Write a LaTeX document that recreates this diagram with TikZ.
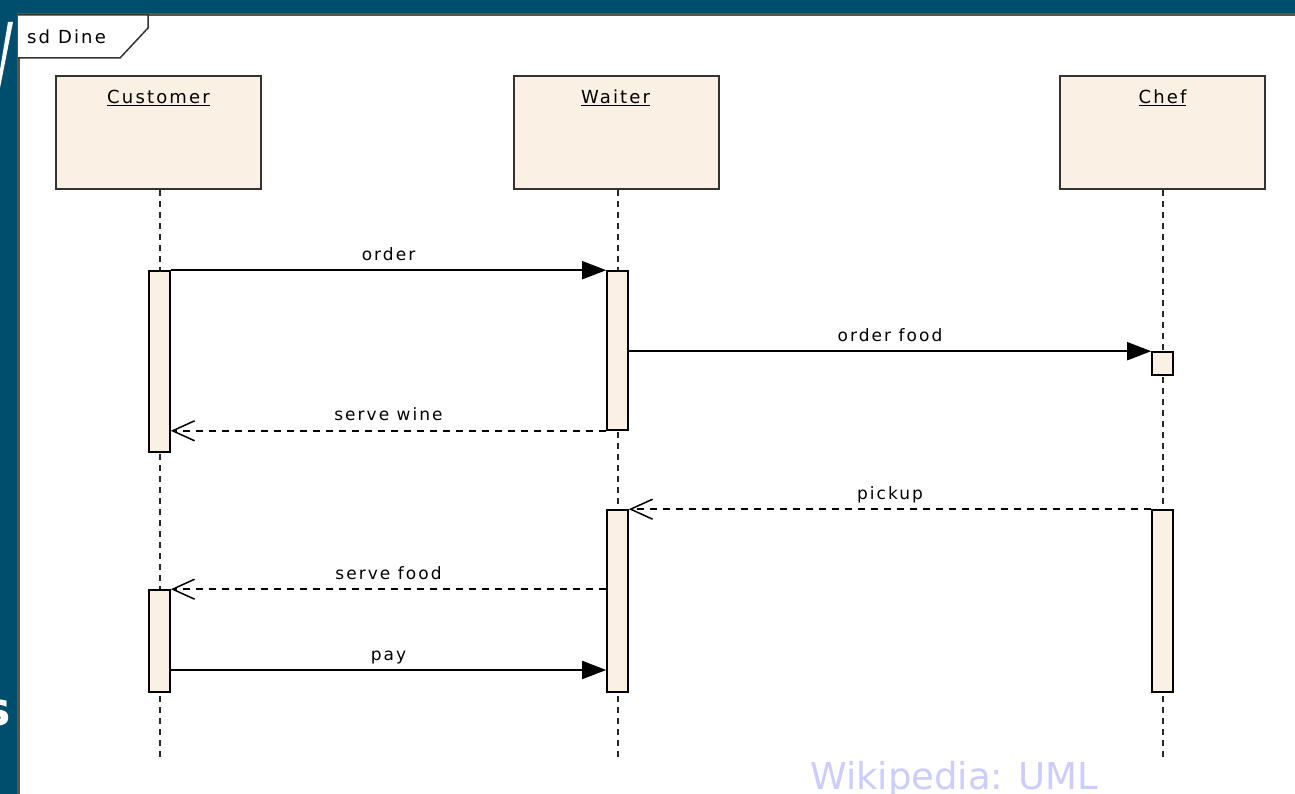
\documentclass[tikz,border=0pt]{standalone}
\usepackage{fontspec}
\setmainfont{DejaVu Sans}
\newfontfamily\lblfont[LetterSpace=12]{DejaVu Sans}
\usetikzlibrary{arrows.meta}
\definecolor{slideblue}{HTML}{004E6E}
\definecolor{boxfill}{HTML}{FAF0E3}
\definecolor{boxline}{HTML}{333333}
\definecolor{framegray}{HTML}{555555}
\definecolor{wikicol}{HTML}{CCCCFF}
\tikzset{
  head/.style={draw=boxline, line width=2pt, fill=boxfill, minimum width=205pt, minimum height=113pt, inner sep=0pt},
  headtext/.style={anchor=base, inner sep=0pt, font=\lblfont\fontsize{18}{20}\selectfont},
  lifeline/.style={draw=black!85, line width=2pt, dash pattern=on 6pt off 5pt},
  act/.style={draw=black, line width=1.6pt, fill=boxfill, minimum width=21pt, inner sep=0pt},
  syncmsg/.style={draw=black, line width=1.8pt, -{Triangle[length=24pt,width=18pt]}},
  replymsg/.style={draw=black, line width=1.8pt, dash pattern=on 7pt off 6pt, -{Straight Barb[length=22pt,width=20pt,line width=1.5pt]}},
  msglabel/.style={midway, anchor=base, yshift=10pt, inner sep=0pt, font=\lblfont\fontsize{17}{20}\selectfont}
}
\begin{document}
\begin{tikzpicture}[x=1pt,y=-1pt]
\useasboundingbox (0,0) rectangle (1295,794);
% slide background
\fill[slideblue] (0,0) rectangle (1295,794);
\fill[white] (0,88) -- (0,70) -- (8,22) -- (13,22) -- cycle;
\node[anchor=base east, inner sep=0pt, text=white, font=\bfseries\fontsize{46}{50}\selectfont] (slideS) at (11,725) {s};
% frame
\fill[white] (18,15) rectangle (1300,800);
\draw[framegray, line width=3pt] (18,800) -- (18,15) -- (1300,15);
\draw[boxline, line width=1.5pt, fill=white] (18,15) -- (148,15) -- (148,28) -- (120,58) -- (18,58);
\node[anchor=base west, inner sep=0pt, font=\lblfont\fontsize{18}{20}\selectfont] (title) at (27,44) {sd Dine};
% lifeline heads
\node[head] (cust) at (158.5,132.5) {};
\node[head] (wait) at (616,132.5) {};
\node[head] (chef) at (1162.5,132.5) {};
\node[headtext] (custt) at (158.5,104) {\underline{Customer}};
\node[headtext] (waitt) at (615.5,104) {\underline{Waiter}};
\node[headtext] (chaeft) at (1162.5,104) {\underline{Chef}};
% lifelines
\coordinate (custend) at (159.5,758);
\coordinate (waitend) at (617.5,758);
\coordinate (chefend) at (1162.5,758);
\draw[lifeline] (cust.south -| custend) -- (custend);
\draw[lifeline] (wait.south -| waitend) -- (waitend);
\draw[lifeline] (chef.south -| chefend) -- (chefend);
% activations
\node[act, minimum height=181pt] (c1) at (159.5,361.5) {};
\node[act, minimum height=159pt] (w1) at (617.5,350.5) {};
\node[act, minimum height=23pt] (h1) at (1162.5,363.5) {};
\node[act, minimum height=182pt] (w2) at (617.5,601) {};
\node[act, minimum height=182pt] (h2) at (1162.5,601) {};
\node[act, minimum height=102pt] (c2) at (159.5,641) {};
% messages
\draw[syncmsg] (c1.north east) -- node[msglabel] {order} (w1.north west);
\draw[syncmsg] (w1.east |- h1.north) -- node[msglabel] {order food} (h1.north west);
\draw[replymsg] (w1.south west) -- node[msglabel] {serve wine} (c1.east |- w1.south);
\draw[replymsg] (h2.north west) -- node[msglabel] {pickup} (w2.north east);
\draw[replymsg] (w2.west |- c2.north) -- node[msglabel] {serve food} (c2.north east);
\coordinate (payy) at (0,670);
\draw[syncmsg] (c2.east |- payy) -- node[msglabel] {pay} (w2.west |- payy);
% credit
\node[anchor=base west, inner sep=0pt, text=wikicol, font=\fontsize{37}{40}\selectfont] (credit) at (810,789) {Wikipedia: UML};
\end{tikzpicture}
\end{document}
